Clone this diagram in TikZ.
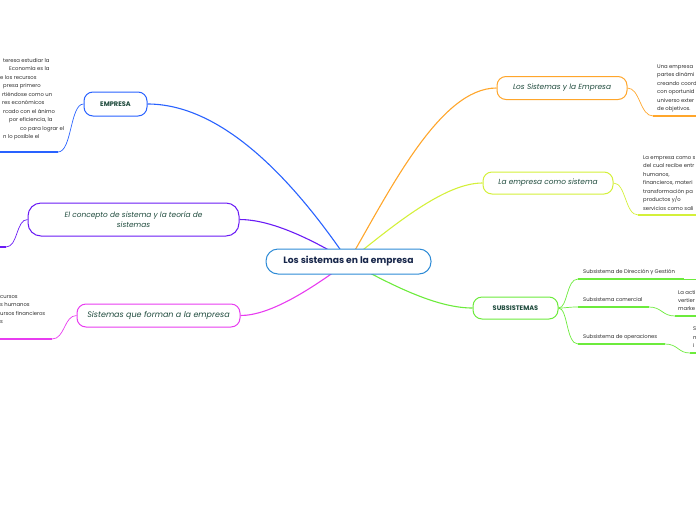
\documentclass[tikz,border=0pt]{standalone}
\usepackage{fontspec}
\setmainfont{Poppins}
\usetikzlibrary{backgrounds,calc}
\definecolor{cblue}{HTML}{2E8BD6}
\definecolor{bblue}{HTML}{2962FF}
\definecolor{bpurple}{HTML}{6A1BF5}
\definecolor{bmag}{HTML}{E83CF0}
\definecolor{borange}{HTML}{FFA62B}
\definecolor{byellow}{HTML}{D4F03A}
\definecolor{bgreen}{HTML}{6CEB3C}
\definecolor{ntext}{HTML}{1E4A3C}
\definecolor{rtext}{HTML}{17264A}
\definecolor{stext}{HTML}{2E2E2E}
\newcommand{\smallf}{\fontsize{5.3}{6}\selectfont}
\begin{document}
\begin{tikzpicture}[x=1pt,y=-1pt,
  mbox/.style={draw, fill=white, rounded corners=9pt, line width=1pt, inner sep=0pt, align=center, text=ntext},
  lbl/.style={inner sep=0pt, anchor=base west, font=\smallf, text=stext},
  conn/.style={line width=1.1pt},
  thin/.style={line width=0.7pt},
  uline/.style={line width=1.8pt}]
\useasboundingbox (0,0) rectangle (696,520);
\begin{scope}
\clip (0,0) rectangle (696,520);
% nodes
\node[mbox, draw=cblue, rounded corners=12pt, minimum width=165pt, minimum height=25pt, text=rtext, font=\fontsize{9.2}{11}\selectfont\bfseries] (root) at (348.5,261.5) {Los sistemas en la empresa};
\node[mbox, draw=bblue, minimum width=63pt, minimum height=24pt, font=\fontsize{6.6}{8}\selectfont\bfseries] (emp) at (115.5,104) {EMPRESA};
\node[mbox, draw=bpurple, rounded corners=13pt, minimum width=211pt, minimum height=33pt, font=\fontsize{7.4}{10}\selectfont\itshape] (conc) at (133.5,219.5) {El concepto de sistema y la teoría de\\sistemas};
\node[mbox, draw=bmag, minimum width=163pt, minimum height=23pt, font=\fontsize{8.0}{10}\selectfont\itshape] (sqf) at (158.5,315.5) {Sistemas que forman a la empresa};
\node[mbox, draw=borange, minimum width=130pt, minimum height=23pt, font=\fontsize{7.4}{9}\selectfont\itshape] (lse) at (562,88) {Los Sistemas y la Empresa};
\node[mbox, draw=byellow, minimum width=130pt, minimum height=22pt, font=\fontsize{7.4}{9}\selectfont\itshape] (lec) at (548,183) {La empresa como sistema};
\node[mbox, draw=bgreen, minimum width=85pt, minimum height=22pt, font=\fontsize{6.6}{8}\selectfont\bfseries] (sub) at (515.5,308) {SUBSISTEMAS};

\begin{pgfonlayer}{background}
% main connectors
\draw[conn, bblue] (root.center) .. controls (290,175) and (220,104) .. (emp.east);
\draw[conn, bpurple] (root.center) .. controls (300,232) and (265,219.5) .. (conc.east);
\draw[conn, borange] (root.center) .. controls (390,190) and (440,88) .. (lse.west);
\draw[conn, byellow] (root.center) .. controls (395,224) and (445,183) .. (lec.west);
\draw[conn, bmag] (root.center) .. controls (310,290) and (270,315.5) .. (sqf.east);
\draw[conn, bgreen] (root.center) .. controls (400,290) and (440,308) .. (sub.west);
\end{pgfonlayer}

% left: EMPRESA
\coordinate (e1) at (58,152);
\coordinate (e0) at (0,152);
\draw[thin, bblue] (emp.west) .. controls (70,104) and (72,152) .. (e1);
\draw[uline, bblue] (e1) -- (e0);
\node[lbl] (t1) at (3,62) {teresa estudiar la};
\node[lbl] (t2) at (9,70.5) {Economía es la};
\node[lbl] (t3) at (0,79) {e los recursos};
\node[lbl] (t4) at (3,87.5) {presa primero};
\node[lbl] (t5) at (2,96) {rtiéndose como un};
\node[lbl] (t6) at (2,104.5) {res económicos};
\node[lbl] (t7) at (3,113) {rcado con el ánimo};
\node[lbl] (t8) at (9,121.5) {por eficiencia, la};
\node[lbl] (t9) at (20,130) {co para lograr el};
\node[lbl] (t10) at (3,138.5) {n lo posible el};

% left: concepto
\coordinate (c1) at (6,247);
\coordinate (c0) at (0,247);
\draw[thin, bpurple] (conc.west) .. controls (16,219.5) and (18,247) .. (c1);
\draw[uline, bpurple] (c1) -- (c0);

% left: sistemas que forman
\coordinate (s1) at (52,339);
\coordinate (s0) at (0,339);
\draw[thin, bmag] (sqf.west) .. controls (64,315.5) and (65,339) .. (s1);
\draw[uline, bmag] (s1) -- (s0);
\node[lbl] (m1) at (0,298) {cursos};
\node[lbl] (m2) at (0,306.5) {s humanos};
\node[lbl] (m3) at (0,315) {ursos financieros};
\node[lbl] (m4) at (0,323.5) {s};

% right: Los sistemas y la empresa
\coordinate (o1) at (653,116);
\coordinate (o2) at (696,116);
\draw[thin, borange] (lse.east) .. controls (640,88) and (640,116) .. (o1);
\draw[uline, borange] (o1) -- (o2);
\node[lbl] (r1) at (657,68) {Una empresa};
\node[lbl] (r2) at (657,76.5) {partes dinámi};
\node[lbl] (r3) at (657,85) {creando coord};
\node[lbl] (r4) at (657,93.5) {con oportunid};
\node[lbl] (r5) at (657,102) {universo exter};
\node[lbl] (r6) at (657,110.5) {de objetivos.};

% right: La empresa como sistema
\coordinate (y1) at (638,215);
\coordinate (y2) at (696,215);
\draw[thin, byellow] (lec.east) .. controls (626,183) and (625,215) .. (y1);
\draw[uline, byellow] (y1) -- (y2);
\node[lbl] (q1) at (643,159) {La empresa como s};
\node[lbl] (q2) at (643,167.5) {del cual recibe entr};
\node[lbl] (q3) at (643,176) {humanos,};
\node[lbl] (q4) at (643,184.5) {financieros, materi};
\node[lbl] (q5) at (643,193) {transformación pa};
\node[lbl] (q6) at (643,201.5) {productos y/o};
\node[lbl] (q7) at (643,210) {servicios como sali};

% subsistemas
\coordinate (g1) at (578,279);
\coordinate (g1e) at (684,279);
\coordinate (g1x) at (696,279);
\coordinate (g2) at (578,307);
\coordinate (g2e) at (649,307);
\coordinate (g2c) at (675,316);
\coordinate (g2x) at (696,316);
\coordinate (g3) at (578,344);
\coordinate (g3e) at (665,344);
\coordinate (g3c) at (690,353);
\coordinate (g3x) at (696,353);
\draw[thin, bgreen] (sub.east) .. controls (568,308) and (566,279) .. (g1);
\draw[thin, bgreen] (sub.east) .. controls (568,308) and (566,307) .. (g2);
\draw[thin, bgreen] (sub.east) .. controls (568,308) and (566,344) .. (g3);
\draw[uline, bgreen] (g1) -- (g1e);
\draw[thin, bgreen] (g1e) -- (g1x);
\draw[uline, bgreen] (g2) -- (g2e);
\draw[thin, bgreen] (g2e) .. controls (662,307) and (662,316) .. (g2c);
\draw[uline, bgreen] (g2c) -- (g2x);
\draw[uline, bgreen] (g3) -- (g3e);
\draw[thin, bgreen] (g3e) .. controls (678,344) and (678,353) .. (g3c);
\draw[uline, bgreen] (g3c) -- (g3x);
\node[lbl] (u1) at (583,273) {Subsistema de Dirección y Gestión};
\node[lbl] (u2) at (583,301) {Subsistema comercial};
\node[lbl] (u3) at (583,338) {Subsistema de operaciones};
\node[lbl] (v1) at (678,294) {La acti};
\node[lbl] (v2) at (678,302) {vertier};
\node[lbl] (v3) at (678,310) {marke};
\node[lbl] (w1) at (693,330) {S};
\node[lbl] (w2) at (693,339) {n};
\node[lbl] (w3) at (693,347) {i};
\end{scope}
\end{tikzpicture}
\end{document}
